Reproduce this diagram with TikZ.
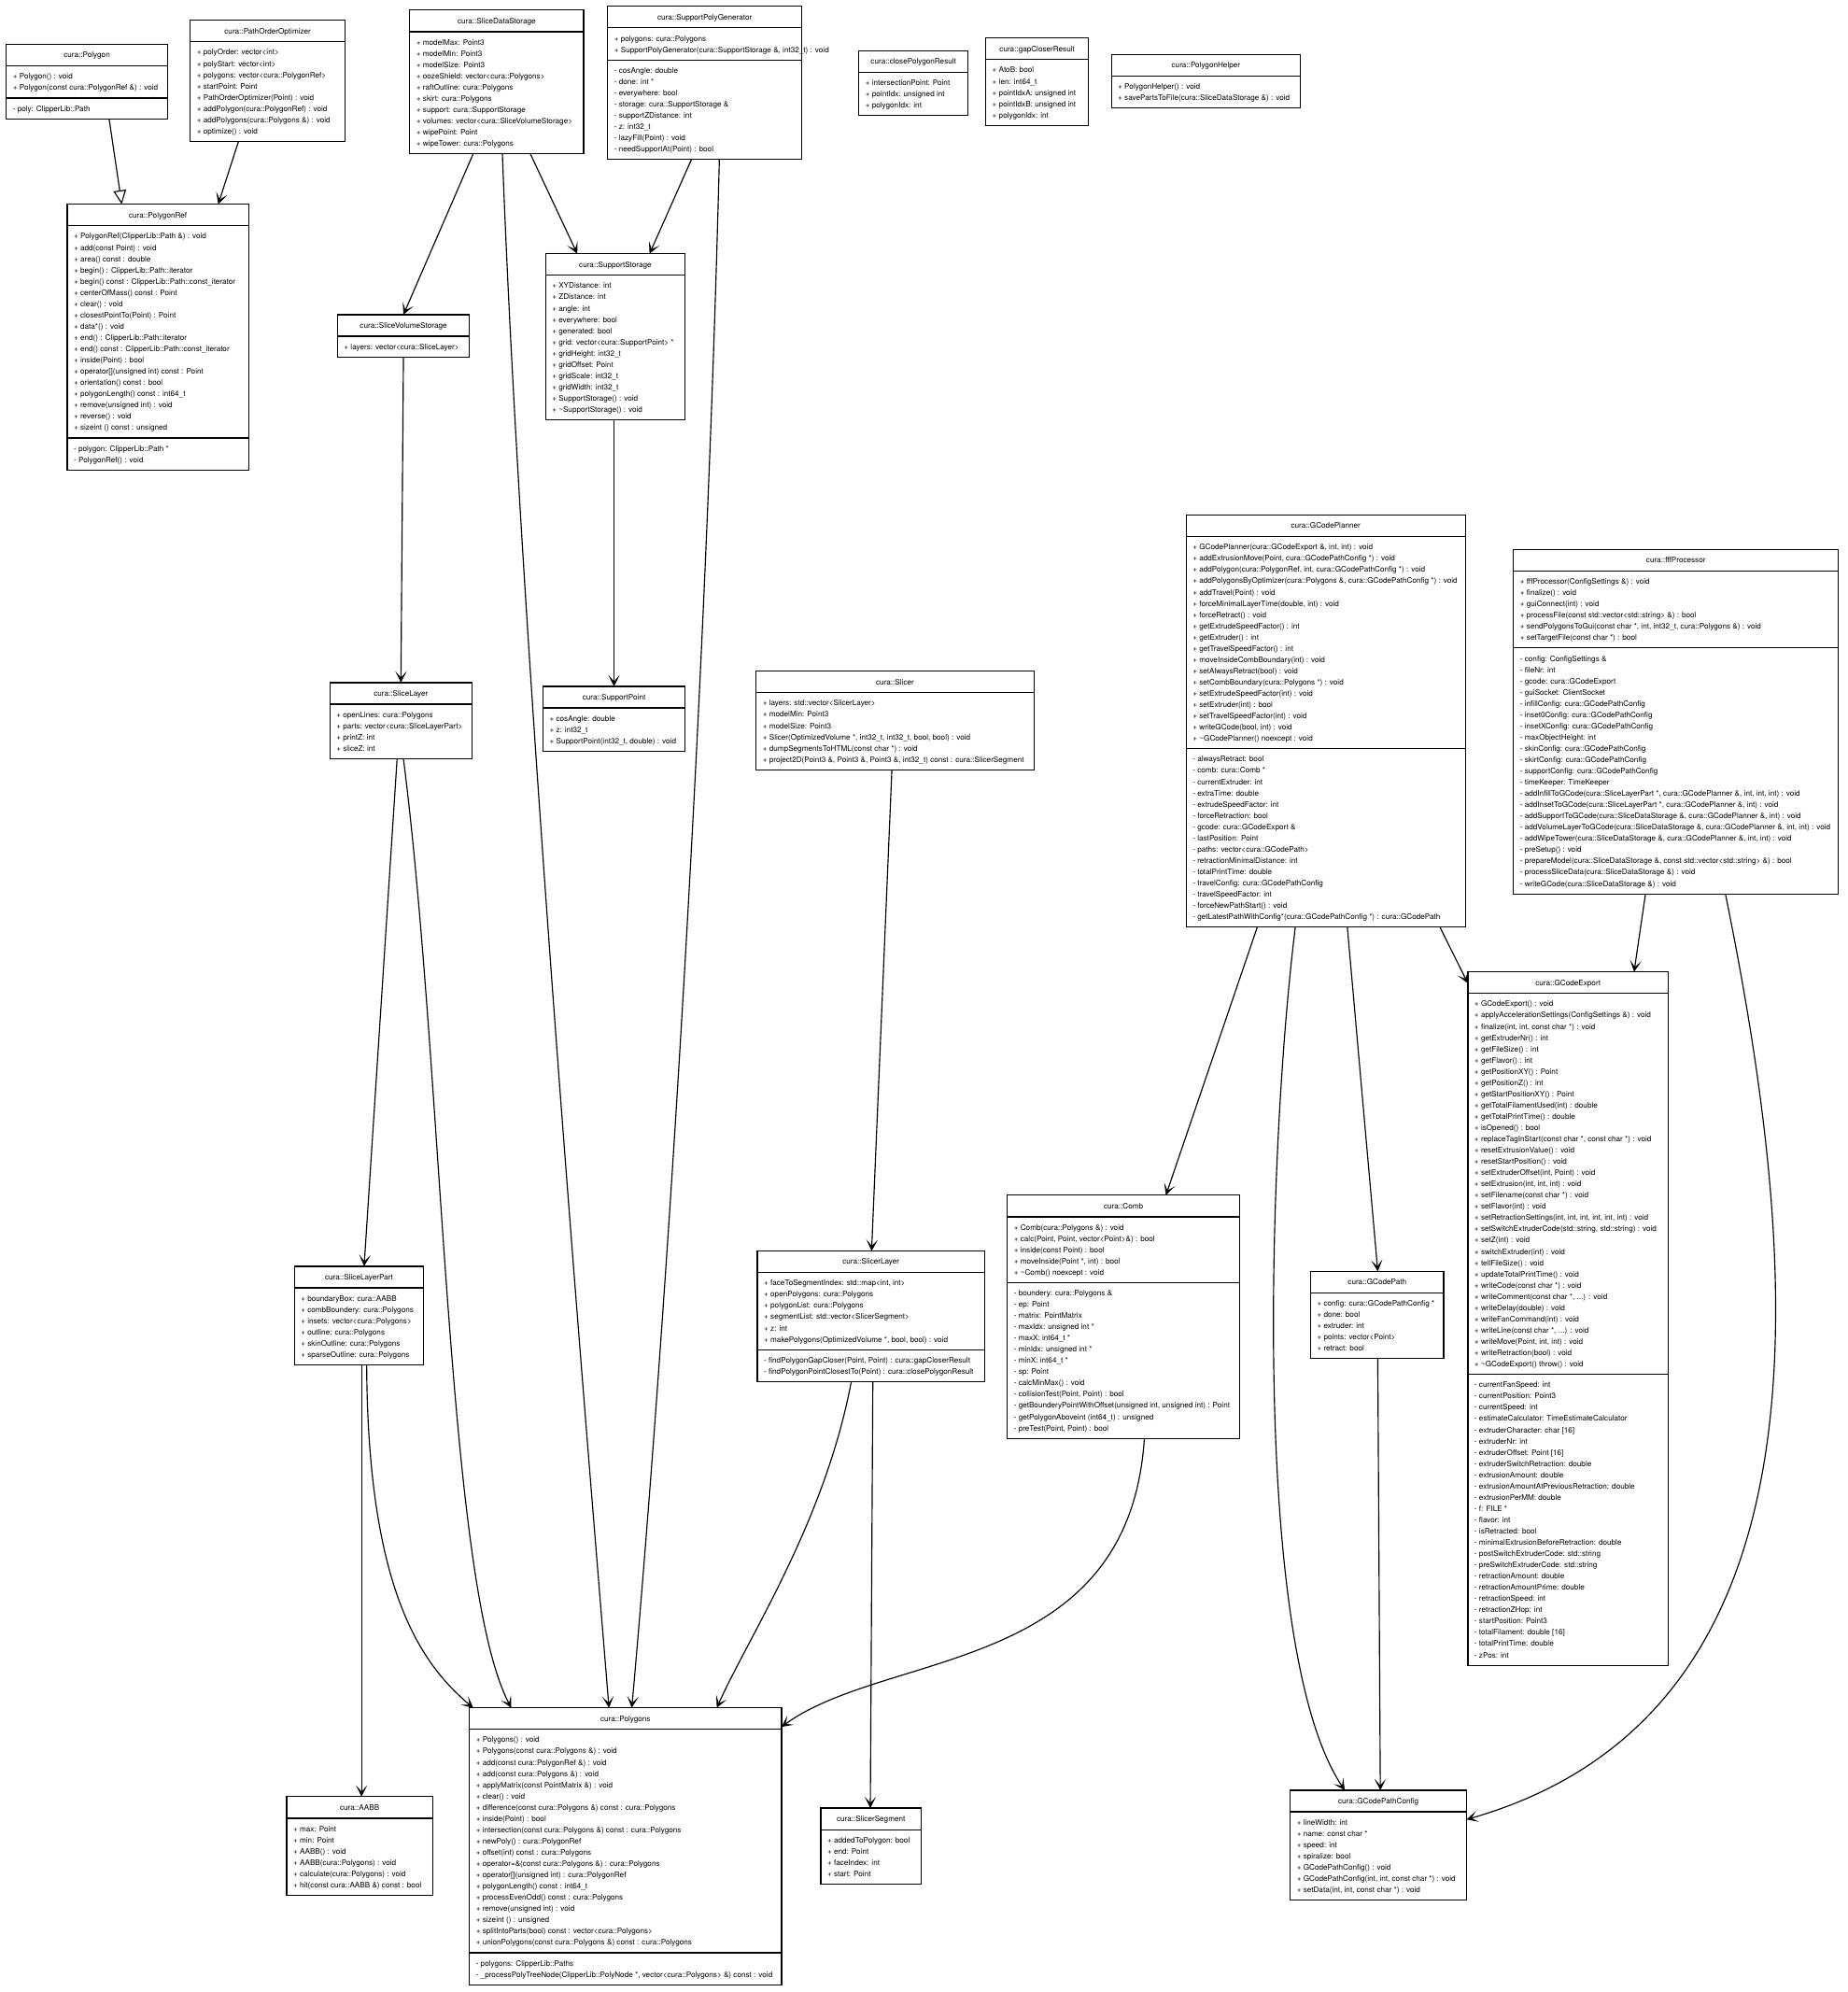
\documentclass[tikz,border=0pt]{standalone}
\usepackage{fontspec}
\setmainfont{TeX Gyre Heros}
\usetikzlibrary{arrows.meta,calc}
\tikzset{
  ubox/.style={draw=black, line width=0.9pt, fill=white, inner sep=0pt, outer sep=0pt},
  utitle/.style={inner sep=0pt, font=\fontsize{6}{8.87}\selectfont},
  ulines/.style={inner sep=0pt, align=left, anchor=north west, font=\fontsize{6}{8.87}\selectfont},
  udiv/.style={line width=0.9pt},
  assoc/.style={line width=0.85pt, -{Stealth[length=9pt,width=9pt,inset=5pt]}},
  gener/.style={line width=0.85pt, -{Triangle[open,length=11pt,width=10pt,fill=white]}},
}
\newcommand{\uclassA}[7]{%
  \pgfmathsetmacro{\uhA}{#6*8.87+7.5}%
  \pgfmathsetmacro{\uhT}{17+\uhA}%
  \node[ubox, minimum width=#4pt, minimum height=\uhT pt, anchor=north west] (#1) at (#2,#3) {};%
  \node[utitle, anchor=base] (#1-t) at ($(#1.north)+(0,10.6)$) {#5};%
  \draw[udiv] ($(#1.north west)+(0,17)$) -- ($(#1.north east)+(0,17)$);%
  \node[ulines] (#1-a) at ($(#1.north west)+(5,21.2)$) {\rule{0pt}{6pt}#7};%
}
\newcommand{\uclassB}[9]{%
  \pgfmathsetmacro{\uhA}{#6*8.87+7.5}%
  \pgfmathsetmacro{\uhB}{#8*8.87+7.5}%
  \pgfmathsetmacro{\uhT}{17+\uhA+\uhB}%
  \pgfmathsetmacro{\uhD}{17+\uhA}%
  \pgfmathsetmacro{\uhE}{17+\uhA+4.2}%
  \node[ubox, minimum width=#4pt, minimum height=\uhT pt, anchor=north west] (#1) at (#2,#3) {};%
  \node[utitle, anchor=base] (#1-t) at ($(#1.north)+(0,10.6)$) {#5};%
  \draw[udiv] ($(#1.north west)+(0,17)$) -- ($(#1.north east)+(0,17)$);%
  \node[ulines] (#1-a) at ($(#1.north west)+(5,21.2)$) {\rule{0pt}{6pt}#7};%
  \draw[udiv] ($(#1.north west)+(0,\uhD)$) -- ($(#1.north east)+(0,\uhD)$);%
  \node[ulines] (#1-b) at ($(#1.north west)+(5,\uhE)$) {\rule{0pt}{6pt}#9};%
}
\begin{document}
\begin{tikzpicture}[x=1pt,y=-1pt]
\path[use as bounding box, fill=white] (0,0) rectangle (1456,1570);

\uclassB{pg}{5}{35}{127}{cura::Polygon}{2}{+ Polygon() : void\\+ Polygon(const cura::PolygonRef \&) : void}{1}{- poly: ClipperLib::Path}

\uclassA{poo}{150}{16}{122}{cura::PathOrderOptimizer}{8}{+ polyOrder: vector<int>\\+ polyStart: vector<int>\\+ polygons: vector<cura::PolygonRef>\\+ startPoint: Point\\+ PathOrderOptimizer(Point) : void\\+ addPolygon(cura::PolygonRef) : void\\+ addPolygons(cura::Polygons \&) : void\\+ optimize() : void}

\uclassA{sds}{323}{8}{137}{cura::SliceDataStorage}{10}{+ modelMax: Point3\\+ modelMin: Point3\\+ modelSize: Point3\\+ oozeShield: vector<cura::Polygons>\\+ raftOutline: cura::Polygons\\+ skirt: cura::Polygons\\+ support: cura::SupportStorage\\+ volumes: vector<cura::SliceVolumeStorage>\\+ wipePoint: Point\\+ wipeTower: cura::Polygons}

\uclassB{spg}{479}{5}{153}{cura::SupportPolyGenerator}{2}{+ polygons: cura::Polygons\\+ SupportPolyGenerator(cura::SupportStorage \&, int32\_t) : void}{8}{- cosAngle: double\\- done: int *\\- everywhere: bool\\- storage: cura::SupportStorage \&\\- supportZDistance: int\\- z: int32\_t\\- lazyFill(Point) : void\\- needSupportAt(Point) : bool}

\uclassA{cpr}{677}{40}{86}{cura::closePolygonResult}{3}{+ intersectionPoint: Point\\+ pointIdx: unsigned int\\+ polygonIdx: int}

\uclassA{gcr}{777}{30}{81}{cura::gapCloserResult}{5}{+ AtoB: bool\\+ len: int64\_t\\+ pointIdxA: unsigned int\\+ pointIdxB: unsigned int\\+ polygonIdx: int}

\uclassA{ph}{876}{43}{149}{cura::PolygonHelper}{2}{+ PolygonHelper() : void\\+ savePartsToFile(cura::SliceDataStorage \&) : void}

\uclassB{pr}{53}{161}{143}{cura::PolygonRef}{18}{+ PolygonRef(ClipperLib::Path \&) : void\\+ add(const Point) : void\\+ area() const : double\\+ begin() : ClipperLib::Path::iterator\\+ begin() const : ClipperLib::Path::const\_iterator\\+ centerOfMass() const : Point\\+ clear() : void\\+ closestPointTo(Point) : Point\\+ data*() : void\\+ end() : ClipperLib::Path::iterator\\+ end() const : ClipperLib::Path::const\_iterator\\+ inside(Point) : bool\\+ operator[](unsigned int) const : Point\\+ orientation() const : bool\\+ polygonLength() const : int64\_t\\+ remove(unsigned int) : void\\+ reverse() : void\\+ sizeint () const : unsigned}{2}{- polygon: ClipperLib::Path *\\- PolygonRef() : void}

\uclassA{svs}{266}{248}{104}{cura::SliceVolumeStorage}{1}{+ layers: vector<cura::SliceLayer>}

\uclassA{ss}{430}{200}{110}{cura::SupportStorage}{12}{+ XYDistance: int\\+ ZDistance: int\\+ angle: int\\+ everywhere: bool\\+ generated: bool\\+ grid: vector<cura::SupportPoint> *\\+ gridHeight: int32\_t\\+ gridOffset: Point\\+ gridScale: int32\_t\\+ gridWidth: int32\_t\\+ SupportStorage() : void\\+ \textasciitilde SupportStorage() : void}

\uclassA{sp}{428}{541}{112}{cura::SupportPoint}{3}{+ cosAngle: double\\+ z: int32\_t\\+ SupportPoint(int32\_t, double) : void}

\uclassA{sl}{260}{538}{112}{cura::SliceLayer}{4}{+ openLines: cura::Polygons\\+ parts: vector<cura::SliceLayerPart>\\+ printZ: int\\+ sliceZ: int}

\uclassA{slc}{596}{529}{219}{cura::Slicer}{6}{+ layers: std::vector<SlicerLayer>\\+ modelMin: Point3\\+ modelSize: Point3\\+ Slicer(OptimizedVolume *, int32\_t, int32\_t, bool, bool) : void\\+ dumpSegmentsToHTML(const char *) : void\\+ project2D(Point3 \&, Point3 \&, Point3 \&, int32\_t) const : cura::SlicerSegment}

\uclassB{gp}{935}{406}{220}{cura::GCodePlanner}{18}{+ GCodePlanner(cura::GCodeExport \&, int, int) : void\\+ addExtrusionMove(Point, cura::GCodePathConfig *) : void\\+ addPolygon(cura::PolygonRef, int, cura::GCodePathConfig *) : void\\+ addPolygonsByOptimizer(cura::Polygons \&, cura::GCodePathConfig *) : void\\+ addTravel(Point) : void\\+ forceMinimalLayerTime(double, int) : void\\+ forceRetract() : void\\+ getExtrudeSpeedFactor() : int\\+ getExtruder() : int\\+ getTravelSpeedFactor() : int\\+ moveInsideCombBoundary(int) : void\\+ setAlwaysRetract(bool) : void\\+ setCombBoundary(cura::Polygons *) : void\\+ setExtrudeSpeedFactor(int) : void\\+ setExtruder(int) : bool\\+ setTravelSpeedFactor(int) : void\\+ writeGCode(bool, int) : void\\+ \textasciitilde GCodePlanner() noexcept : void}{15}{- alwaysRetract: bool\\- comb: cura::Comb *\\- currentExtruder: int\\- extraTime: double\\- extrudeSpeedFactor: int\\- forceRetraction: bool\\- gcode: cura::GCodeExport \&\\- lastPosition: Point\\- paths: vector<cura::GCodePath>\\- retractionMinimalDistance: int\\- totalPrintTime: double\\- travelConfig: cura::GCodePathConfig\\- travelSpeedFactor: int\\- forceNewPathStart() : void\\- getLatestPathWithConfig*(cura::GCodePathConfig *) : cura::GCodePath}

\uclassB{fff}{1193}{433}{256}{cura::fffProcessor}{6}{+ fffProcessor(ConfigSettings \&) : void\\+ finalize() : void\\+ guiConnect(int) : void\\+ processFile(const std::vector<std::string> \&) : bool\\+ sendPolygonsToGui(const char *, int, int32\_t, cura::Polygons \&) : void\\+ setTargetFile(const char *) : bool}{21}{- config: ConfigSettings \&\\- fileNr: int\\- gcode: cura::GCodeExport\\- guiSocket: ClientSocket\\- infillConfig: cura::GCodePathConfig\\- inset0Config: cura::GCodePathConfig\\- insetXConfig: cura::GCodePathConfig\\- maxObjectHeight: int\\- skinConfig: cura::GCodePathConfig\\- skirtConfig: cura::GCodePathConfig\\- supportConfig: cura::GCodePathConfig\\- timeKeeper: TimeKeeper\\- addInfillToGCode(cura::SliceLayerPart *, cura::GCodePlanner \&, int, int, int) : void\\- addInsetToGCode(cura::SliceLayerPart *, cura::GCodePlanner \&, int) : void\\- addSupportToGCode(cura::SliceDataStorage \&, cura::GCodePlanner \&, int) : void\\- addVolumeLayerToGCode(cura::SliceDataStorage \&, cura::GCodePlanner \&, int, int) : void\\- addWipeTower(cura::SliceDataStorage \&, cura::GCodePlanner \&, int, int) : void\\- preSetup() : void\\- prepareModel(cura::SliceDataStorage \&, const std::vector<std::string> \&) : bool\\- processSliceData(cura::SliceDataStorage \&) : void\\- writeGCode(cura::SliceDataStorage \&) : void}

\uclassB{ge}{1157}{766}{158}{cura::GCodeExport}{33}{+ GCodeExport() : void\\+ applyAccelerationSettings(ConfigSettings \&) : void\\+ finalize(int, int, const char *) : void\\+ getExtruderNr() : int\\+ getFileSize() : int\\+ getFlavor() : int\\+ getPositionXY() : Point\\+ getPositionZ() : int\\+ getStartPositionXY() : Point\\+ getTotalFilamentUsed(int) : double\\+ getTotalPrintTime() : double\\+ isOpened() : bool\\+ replaceTagInStart(const char *, const char *) : void\\+ resetExtrusionValue() : void\\+ resetStartPosition() : void\\+ setExtruderOffset(int, Point) : void\\+ setExtrusion(int, int, int) : void\\+ setFilename(const char *) : void\\+ setFlavor(int) : void\\+ setRetractionSettings(int, int, int, int, int, int) : void\\+ setSwitchExtruderCode(std::string, std::string) : void\\+ setZ(int) : void\\+ switchExtruder(int) : void\\+ tellFileSize() : void\\+ updateTotalPrintTime() : void\\+ writeCode(const char *) : void\\+ writeComment(const char *, ...) : void\\+ writeDelay(double) : void\\+ writeFanCommand(int) : void\\+ writeLine(const char *, ...) : void\\+ writeMove(Point, int, int) : void\\+ writeRetraction(bool) : void\\+ \textasciitilde GCodeExport() throw() : void}{25}{- currentFanSpeed: int\\- currentPosition: Point3\\- currentSpeed: int\\- estimateCalculator: TimeEstimateCalculator\\- extruderCharacter: char [16]\\- extruderNr: int\\- extruderOffset: Point [16]\\- extruderSwitchRetraction: double\\- extrusionAmount: double\\- extrusionAmountAtPreviousRetraction: double\\- extrusionPerMM: double\\- f: FILE *\\- flavor: int\\- isRetracted: bool\\- minimalExtrusionBeforeRetraction: double\\- postSwitchExtruderCode: std::string\\- preSwitchExtruderCode: std::string\\- retractionAmount: double\\- retractionAmountPrime: double\\- retractionSpeed: int\\- retractionZHop: int\\- startPosition: Point3\\- totalFilament: double [16]\\- totalPrintTime: double\\- zPos: int}

\uclassB{cb}{794}{942}{183}{cura::Comb}{5}{+ Comb(cura::Polygons \&) : void\\+ calc(Point, Point, vector<Point>\&) : bool\\+ inside(const Point) : bool\\+ moveInside(Point *, int) : bool\\+ \textasciitilde Comb() noexcept : void}{13}{- boundery: cura::Polygons \&\\- ep: Point\\- matrix: PointMatrix\\- maxIdx: unsigned int *\\- maxX: int64\_t *\\- minIdx: unsigned int *\\- minX: int64\_t *\\- sp: Point\\- calcMinMax() : void\\- collisionTest(Point, Point) : bool\\- getBounderyPointWithOffset(unsigned int, unsigned int) : Point\\- getPolygonAboveint (int64\_t) : unsigned\\- preTest(Point, Point) : bool}

\uclassA{gpa}{1033}{1002}{105}{cura::GCodePath}{5}{+ config: cura::GCodePathConfig *\\+ done: bool\\+ extruder: int\\+ points: vector<Point>\\+ retract: bool}

\uclassA{slp}{232}{998}{102}{cura::SliceLayerPart}{6}{+ boundaryBox: cura::AABB\\+ combBoundery: cura::Polygons\\+ insets: vector<cura::Polygons>\\+ outline: cura::Polygons\\+ skinOutline: cura::Polygons\\+ sparseOutline: cura::Polygons}

\uclassB{slr}{597}{986}{179}{cura::SlicerLayer}{6}{+ faceToSegmentIndex: std::map<int, int>\\+ openPolygons: cura::Polygons\\+ polygonList: cura::Polygons\\+ segmentList: std::vector<SlicerSegment>\\+ z: int\\+ makePolygons(OptimizedVolume *, bool, bool) : void}{2}{- findPolygonGapCloser(Point, Point) : cura::gapCloserResult\\- findPolygonPointClosestTo(Point) : cura::closePolygonResult}

\uclassB{pgs}{370}{1346}{246}{cura::Polygons}{19}{+ Polygons() : void\\+ Polygons(const cura::Polygons \&) : void\\+ add(const cura::PolygonRef \&) : void\\+ add(const cura::Polygons \&) : void\\+ applyMatrix(const PointMatrix \&) : void\\+ clear() : void\\+ difference(const cura::Polygons \&) const : cura::Polygons\\+ inside(Point) : bool\\+ intersection(const cura::Polygons \&) const : cura::Polygons\\+ newPoly() : cura::PolygonRef\\+ offset(int) const : cura::Polygons\\+ operator=\&(const cura::Polygons \&) : cura::Polygons\\+ operator[](unsigned int) : cura::PolygonRef\\+ polygonLength() const : int64\_t\\+ processEvenOdd() const : cura::Polygons\\+ remove(unsigned int) : void\\+ sizeint () : unsigned\\+ splitIntoParts(bool) const : vector<cura::Polygons>\\+ unionPolygons(const cura::Polygons \&) const : cura::Polygons}{2}{- polygons: ClipperLib::Paths\\- \_processPolyTreeNode(ClipperLib::PolyNode *, vector<cura::Polygons> \&) const : void}

\uclassA{ab}{226}{1416}{115}{cura::AABB}{6}{+ max: Point\\+ min: Point\\+ AABB() : void\\+ AABB(cura::Polygons) : void\\+ calculate(cura::Polygons) : void\\+ hit(const cura::AABB \&) const : bool}

\uclassA{ssg}{647}{1425}{79}{cura::SlicerSegment}{4}{+ addedToPolygon: bool\\+ end: Point\\+ faceIndex: int\\+ start: Point}

\uclassA{gpc}{1017}{1411}{139}{cura::GCodePathConfig}{7}{+ lineWidth: int\\+ name: const char *\\+ speed: int\\+ spiralize: bool\\+ GCodePathConfig() : void\\+ GCodePathConfig(int, int, const char *) : void\\+ setData(int, int, const char *) : void}

% connectors
\draw[gener] ($(pg.south west)+(81,0)$) -- ($(pr.north west)+(43,0)$);
\draw[assoc] ($(poo.south west)+(38,0)$) -- ($(pr.north west)+(119,0)$);
\draw[assoc] ($(sds.south west)+(50,0)$) -- ($(svs.north west)+(52,0)$);
\draw[assoc] ($(sds.south west)+(95,0)$) -- ($(ss.north west)+(25,0)$);
\draw[assoc] ($(sds.south west)+(73,0)$) .. controls (410,500) and (460,1100) .. ($(pgs.north west)+(110,0)$);
\draw[assoc] ($(spg.south west)+(66,0)$) -- ($(ss.north west)+(82,0)$);
\draw[assoc] ($(spg.south west)+(88,0)$) .. controls (555,600) and (520,1100) .. ($(pgs.north west)+(128,0)$);
\draw[assoc] ($(svs.south west)+(52,0)$) -- ($(sl.north west)+(56,0)$);
\draw[assoc] ($(ss.south west)+(54,0)$) -- ($(sp.north west)+(56,0)$);
\draw[assoc] ($(sl.south west)+(53,0)$) -- ($(slp.north west)+(55,0)$);
\draw[assoc] ($(sl.south west)+(58,0)$) .. controls (350,850) and (352,1250) .. ($(pgs.north west)+(33,0)$);
\draw[assoc] ($(slp.south west)+(53,0)$) -- ($(ab.north west)+(59,0)$);
\draw[assoc] ($(slp.south west)+(57,0)$) .. controls (290,1250) and (330,1310) .. ($(pgs.north west)+(3,0)$);
\draw[assoc] ($(slc.south west)+(107,0)$) -- ($(slr.north west)+(90,0)$);
\draw[assoc] ($(slr.south west)+(74,0)$) .. controls (650,1200) and (590,1290) .. ($(pgs.north west)+(195,0)$);
\draw[assoc] ($(slr.south west)+(91,0)$) -- ($(ssg.north west)+(39,0)$);
\draw[assoc] ($(gp.south west)+(56,0)$) -- ($(cb.north west)+(125,0)$);
\draw[assoc] ($(gp.south west)+(86,0)$) .. controls (1000,900) and (985,1300) .. ($(gpc.north west)+(43,0)$);
\draw[assoc] ($(gp.south west)+(127,0)$) -- ($(gpa.north west)+(53,0)$);
\draw[assoc] ($(gp.south west)+(200,0)$) -- ($(ge.north west)+(0,9)$);
\draw[assoc] ($(fff.south west)+(104,0)$) -- ($(ge.north west)+(131,0)$);
\draw[assoc] ($(fff.south west)+(167,0)$) .. controls (1420,1000) and (1450,1350) .. ($(gpc.north east)+(0,23)$);
\draw[assoc] ($(gpa.south west)+(53,0)$) -- ($(gpc.north west)+(71,0)$);
\draw[assoc] ($(cb.south west)+(108,0)$) .. controls (890,1320) and (700,1300) .. ($(pgs.north east)+(0,15)$);
\end{tikzpicture}
\end{document}
